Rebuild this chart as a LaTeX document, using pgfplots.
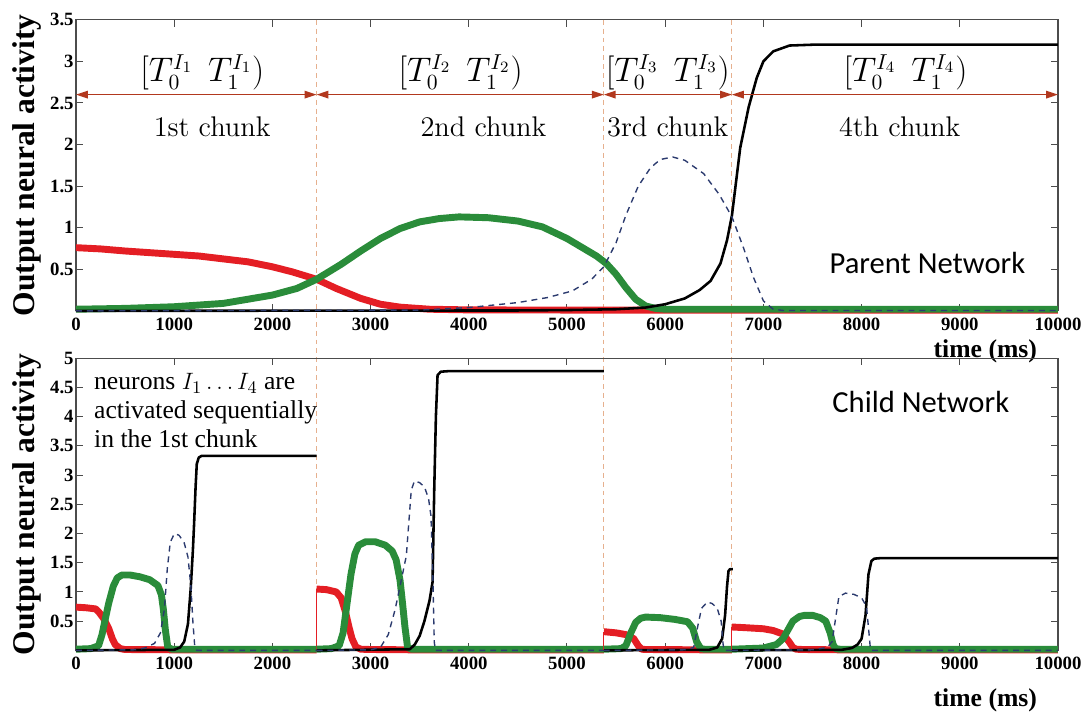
\documentclass[border=0pt]{standalone}
\usepackage{pgfplots}
\pgfplotsset{compat=1.18}
\usepackage{fontspec}
\setmainfont{Liberation Serif}
\newfontfamily\calibri{Carlito}
\usetikzlibrary{arrows.meta}
\definecolor{cred}{HTML}{E41E24}
\definecolor{cgreen}{HTML}{2A8C3A}
\definecolor{cnavy}{HTML}{2B3A6E}
\definecolor{carrow}{HTML}{B2381E}
\definecolor{cvline}{HTML}{E6B08E}
\newcommand{\cmtext}{\fontencoding{OT1}\fontfamily{cmr}\fontsize{14.5}{17}\selectfont}
\pgfplotsset{
  panel/.style={scale only axis, width=497.5pt, xmin=0, xmax=10000, ymin=0, clip=false,
    xtick={0,1000,...,10000}, scaled ticks=false,
    /pgf/number format/1000 sep={}, /pgf/number format/assume math mode=true,
    tick label style={font=\rmfamily\fontsize{9.5}{10}\selectfont\bfseries},
    yticklabel style={inner xsep=1pt},
    major tick length=3.5pt, tick style={black!70, line width=0.5pt},
    axis line style={black!70, line width=0.6pt},
    ylabel={Output neural activity},
    ylabel style={font=\rmfamily\fontsize{16}{18}\selectfont\bfseries},
    xlabel={time (ms)},
    every axis plot/.append style={line join=round, mark=none},
  },
  rl/.style={cred, line width=3.5pt},
  gl/.style={cgreen, line width=3.5pt},
  kl/.style={black, line width=1.3pt},
  bl/.style={cnavy, line width=0.7pt, dash pattern=on 3pt off 2.5pt},
  rv/.style={cred, line width=0.5pt},
}
\tikzset{
  vline/.style={cvline, line width=0.5pt, dash pattern=on 2.5pt off 2pt},
  dbl/.style={carrow, line width=0.7pt, {Triangle[length=6pt,width=3.8pt]}-{Triangle[length=6pt,width=3.8pt]}},
  mlab/.style={font=\rmfamily\fontsize{16}{18}\selectfont, inner sep=0pt},
  chunk/.style={font=\cmtext, inner sep=0pt},
  note/.style={font=\rmfamily\fontsize{13}{15}\selectfont, inner sep=0pt, anchor=base west},
  net/.style={font=\calibri\fontsize{15.5}{18}\selectfont, inner sep=0pt},
}
\begin{document}
\begin{tikzpicture}
\path (-38.5pt,157.5pt) (505.5pt,-197pt);
% ---------------- Parent network ----------------
\begin{axis}[panel, name=top, height=147.5pt, ymax=3.5,
  ytick={0.5,1,1.5,2,2.5,3,3.5},
  xlabel style={at={(axis description cs:0.926,0)}, anchor=north, yshift=-11pt, font=\rmfamily\fontsize{13}{14}\selectfont\bfseries}]
\draw[vline] (axis cs:2450,3.5) -- (axis cs:2450,-4.081);
\draw[vline] (axis cs:5375,3.5) -- (axis cs:5375,-4.081);
\draw[vline] (axis cs:6680,3.5) -- (axis cs:6680,-4.081);
\addplot[rl] coordinates {(0,0.76)(250,0.745)(500,0.72)(750,0.70)(1000,0.68)(1250,0.66)(1500,0.625)(1750,0.59)(2000,0.53)(2200,0.47)(2450,0.38)(2650,0.27)(2900,0.15)(3100,0.08)(3300,0.045)(3600,0.02)(4000,0.012)(5000,0.01)(5900,0.01)(10000,0.01)};
\addplot[gl] coordinates {(0,0.02)(500,0.03)(1000,0.05)(1500,0.09)(2000,0.19)(2250,0.27)(2450,0.38)(2700,0.56)(2900,0.72)(3100,0.87)(3300,0.99)(3500,1.07)(3700,1.11)(3900,1.13)(4200,1.12)(4500,1.08)(4750,1.01)(5000,0.87)(5100,0.8)(5200,0.73)(5300,0.66)(5400,0.57)(5500,0.44)(5600,0.28)(5700,0.14)(5800,0.06)(5900,0.03)(6000,0.02)(10000,0.02)};
\addplot[kl] coordinates {(0,0)(4500,0.005)(5000,0.01)(5500,0.02)(5800,0.04)(6000,0.08)(6200,0.15)(6350,0.25)(6462,0.36)(6563,0.57)(6630,0.85)(6680,1.15)(6764,1.96)(6850,2.45)(6932,2.8)(7000,3.0)(7100,3.12)(7266,3.19)(7500,3.2)(10000,3.2)};
\addplot[bl] coordinates {(0,0)(3500,0.01)(4000,0.04)(4500,0.1)(4800,0.16)(5055,0.24)(5250,0.38)(5375,0.53)(5500,0.82)(5600,1.15)(5726,1.5)(5850,1.72)(5950,1.82)(6077,1.85)(6200,1.81)(6392,1.65)(6550,1.4)(6680,1.13)(6800,0.75)(6900,0.4)(7000,0.12)(7100,0.02)(7200,0.005)(10000,0.005)};
\draw[dbl] (axis cs:0,2.6) -- (axis cs:2450,2.6);
\draw[dbl] (axis cs:2450,2.6) -- (axis cs:5375,2.6);
\draw[dbl] (axis cs:5375,2.6) -- (axis cs:6680,2.6);
\draw[dbl] (axis cs:6680,2.6) -- (axis cs:10000,2.6);
\node[mlab] at (axis cs:1287,2.87) {$[T_0^{I_1}\;\, T_1^{I_1})$};
\node[mlab] at (axis cs:3917,2.87) {$[T_0^{I_2}\;\, T_1^{I_2})$};
\node[mlab] at (axis cs:6027,2.87) {$[T_0^{I_3}\;\, T_1^{I_3})$};
\node[mlab] at (axis cs:8447,2.87) {$[T_0^{I_4}\;\, T_1^{I_4})$};
\node[chunk] at (axis cs:1387,2.21) {1st chunk};
\node[chunk] at (axis cs:4150,2.21) {2nd chunk};
\node[chunk] at (axis cs:6027,2.21) {3rd chunk};
\node[chunk] at (axis cs:8388,2.21) {4th chunk};
\node[net] at (axis cs:8670,0.57) {Parent Network};
\end{axis}
% ---------------- Child network ----------------
\begin{axis}[panel, at={(0,-24pt)}, anchor=north west, height=148pt, ymax=5,
  ytick={0.5,1,1.5,2,2.5,3,3.5,4,4.5,5},
  xlabel style={at={(axis description cs:0.926,0)}, anchor=north, yshift=-16pt, font=\rmfamily\fontsize{13}{14}\selectfont\bfseries}]
% chunk 1
\addplot[rl] coordinates {(0,0.74)(100,0.73)(200,0.71)(231,0.66)(280,0.55)(332,0.38)(370,0.2)(399,0.1)(450,0.03)(500,0.015)(950,0.01)(2450,0.01)};
\addplot[gl] coordinates {(0,0.02)(150,0.03)(230,0.08)(265,0.27)(300,0.55)(332,0.8)(380,1.1)(420,1.24)(467,1.29)(550,1.29)(650,1.26)(750,1.21)(834,1.11)(870,0.95)(890,0.7)(910,0.35)(935,0.05)(980,0.02)(2450,0.02)};
\addplot[kl] coordinates {(0,0)(1000,0.01)(1060,0.05)(1102,0.15)(1140,0.45)(1168,1.05)(1190,1.7)(1203,2.18)(1218,2.8)(1230,3.19)(1250,3.3)(1280,3.33)(2450,3.33)};
\addplot[bl] coordinates {(0,0)(600,0.01)(700,0.04)(800,0.12)(860,0.3)(900,0.7)(930,1.4)(960,1.85)(1002,2.0)(1050,1.97)(1102,1.84)(1140,1.6)(1170,1.1)(1190,0.5)(1210,0.05)(1230,0)(2450,0)};
% chunk 2
\addplot[rv] coordinates {(2450,0)(2450,1.05)};
\addplot[rl] coordinates {(2450,1.05)(2550,1.04)(2650,1.0)(2700,0.9)(2744,0.66)(2780,0.4)(2811,0.2)(2850,0.06)(2900,0.02)(3000,0.015)(3380,0.01)(5375,0.01)};
\addplot[gl] coordinates {(2450,0.02)(2600,0.03)(2680,0.08)(2720,0.3)(2760,0.8)(2800,1.3)(2840,1.65)(2878,1.8)(2950,1.86)(3045,1.86)(3150,1.8)(3220,1.7)(3260,1.55)(3300,1.2)(3327,0.78)(3350,0.4)(3377,0.05)(3420,0.02)(5375,0.02)};
\addplot[kl] coordinates {(2450,0)(3400,0.02)(3450,0.1)(3500,0.25)(3548,0.5)(3600,0.85)(3631,1.17)(3648,2.74)(3665,4.0)(3682,4.71)(3715,4.77)(3800,4.78)(5375,4.78)};
\addplot[bl] coordinates {(2450,0)(3000,0.01)(3100,0.05)(3180,0.27)(3250,0.7)(3300,1.1)(3364,1.62)(3414,2.74)(3447,2.9)(3500,2.87)(3548,2.8)(3590,2.6)(3615,2.3)(3635,1.2)(3648,0.15)(3660,0)(5375,0)};
% chunk 3
\addplot[rv] coordinates {(5375,0)(5375,0.32)};
\addplot[rl] coordinates {(5375,0.32)(5500,0.3)(5600,0.27)(5680,0.2)(5726,0.08)(5760,0.02)(5800,0.015)(6350,0.01)(6680,0.01)};
\addplot[gl] coordinates {(5375,0.02)(5550,0.03)(5600,0.08)(5650,0.3)(5700,0.48)(5750,0.55)(5800,0.57)(5950,0.56)(6100,0.53)(6228,0.49)(6280,0.38)(6320,0.15)(6362,0.03)(6400,0.02)(6680,0.02)};
\addplot[kl] coordinates {(5375,0)(6450,0.01)(6530,0.05)(6580,0.2)(6610,0.6)(6630,1.1)(6645,1.36)(6660,1.39)(6690,1.39)};
\addplot[bl] coordinates {(5375,0)(6200,0.01)(6290,0.05)(6330,0.4)(6370,0.72)(6430,0.83)(6480,0.8)(6530,0.72)(6570,0.5)(6590,0.1)(6600,0)(6680,0)};
% chunk 4
\addplot[rv] coordinates {(6680,0)(6680,0.4)};
\addplot[rl] coordinates {(6680,0.4)(6800,0.39)(7000,0.37)(7100,0.34)(7200,0.28)(7260,0.15)(7300,0.05)(7334,0.02)(7400,0.015)(7750,0.01)(10000,0.01)};
\addplot[gl] coordinates {(6680,0.02)(7000,0.04)(7133,0.1)(7200,0.2)(7250,0.35)(7300,0.5)(7367,0.58)(7420,0.6)(7500,0.6)(7580,0.56)(7635,0.5)(7680,0.3)(7710,0.1)(7735,0.03)(7780,0.02)(10000,0.02)};
\addplot[kl] coordinates {(6680,0)(7800,0.01)(7900,0.04)(7960,0.1)(8000,0.2)(8040,0.6)(8070,1.3)(8100,1.53)(8130,1.57)(8200,1.58)(10000,1.58)};
\addplot[bl] coordinates {(6680,0)(7500,0.01)(7650,0.05)(7700,0.15)(7740,0.6)(7769,0.92)(7836,0.98)(7920,0.96)(8000,0.9)(8050,0.75)(8075,0.3)(8090,0.02)(8100,0)(10000,0)};
\node[note] at (axis cs:181,4.46) {neurons $I_1\ldots I_4$ are};
\node[note] at (axis cs:181,3.97) {activated sequentially};
\node[note] at (axis cs:181,3.48) {in the 1st chunk};
\node[net] at (axis cs:8603,4.26) {Child Network};
\end{axis}
\end{tikzpicture}
\end{document}
